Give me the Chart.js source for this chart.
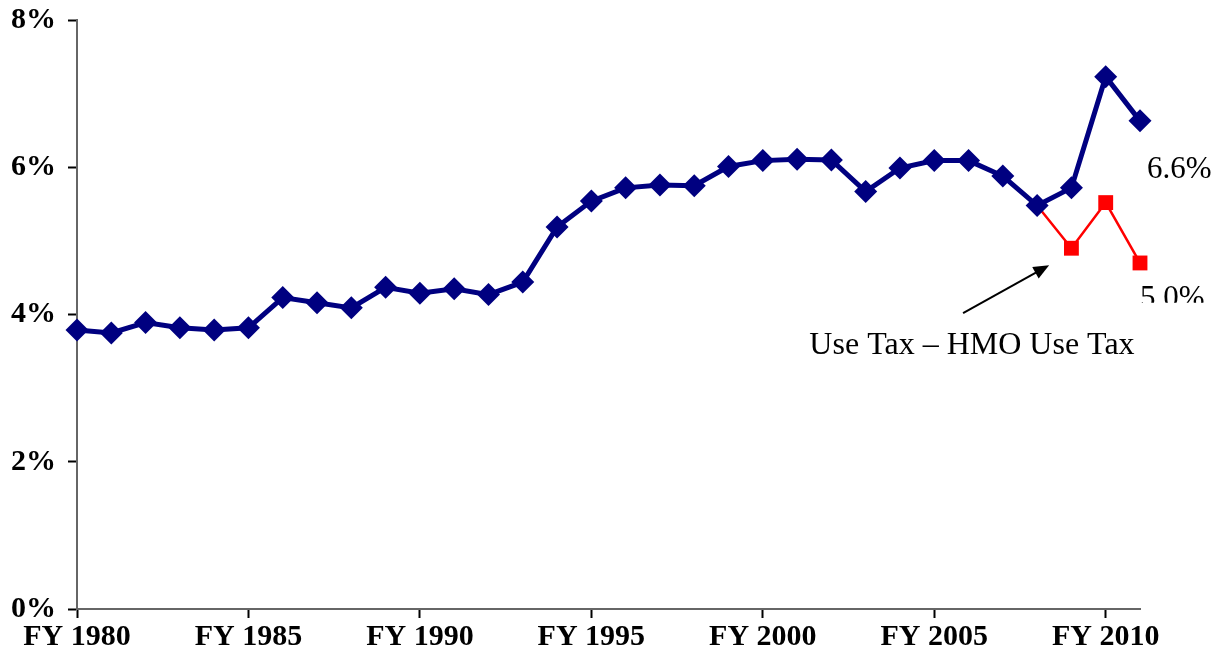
<!DOCTYPE html>
<html>
<head>
<meta charset="utf-8">
<script src="https://cdn.jsdelivr.net/npm/chart.js@4.4.1/dist/chart.umd.min.js"></script>
<style>
  html, body { margin: 0; padding: 0; background: #fff; }
  #wrap { width: 1221px; height: 669px; }
</style>
</head>
<body>
<div id="wrap"><canvas id="lineChart" width="1221" height="669"></canvas></div>
<script>
// Fiscal years on the x-axis
const years = [1980, 1981, 1982, 1983, 1984, 1985, 1986, 1987, 1988, 1989,
               1990, 1991, 1992, 1993, 1994, 1995, 1996, 1997, 1998, 1999,
               2000, 2001, 2002, 2003, 2004, 2005, 2006, 2007, 2008, 2009,
               2010, 2011];
// Use tax share (%) - blue series
const useTax = [3.79, 3.75, 3.89, 3.82, 3.79, 3.82, 4.23, 4.16, 4.09, 4.37,
                4.29, 4.35, 4.27, 4.44, 5.19, 5.54, 5.72, 5.76, 5.75, 6.01,
                6.09, 6.11, 6.10, 5.67, 5.99, 6.09, 6.09, 5.88, 5.48, 5.72,
                7.23, 6.63];
// Use tax minus HMO use tax - red series
const netYears = [2008, 2009, 2010, 2011];
const netUseTax = [5.48, 4.90, 5.52, 4.70];
// axis ticks
const yTicks = [0, 2, 4, 6, 8];
const xTickYears = [1980, 1985, 1990, 1995, 2000, 2005, 2010];

const tickFont = { family: 'Liberation Serif', size: 30, weight: 'bold' };

// draws the value labels, the note and its arrow
const notesPlugin = {
    id: 'notes',
    afterDraw(chart) {
        const c = chart.ctx;
        const x = chart.scales.x, y = chart.scales.y;
        c.save();
        c.fillStyle = '#000';
        c.font = '31px "Liberation Serif"';
        c.textBaseline = 'middle';
        c.textAlign = 'left';
        c.fillText('6.6%', x.getPixelForValue(2011) + 7, y.getPixelForValue(5.97));
        // 5.0% label is cut off at the bottom in the original
        c.save();
        c.beginPath();
        c.rect(0, 0, chart.width, y.getPixelForValue(4.16));
        c.clip();
        c.textBaseline = 'alphabetic';
        c.fillText('5.0%', x.getPixelForValue(2011), y.getPixelForValue(4.1));
        c.restore();
        c.font = '32px "Liberation Serif"';
        c.textAlign = 'center';
        c.fillText('Use Tax \u2013 HMO Use Tax', x.getPixelForValue(2006.1), y.getPixelForValue(3.58));
        // arrow
        const x0 = x.getPixelForValue(2005.84), y0 = y.getPixelForValue(4.02);
        const x1 = x.getPixelForValue(2008.35), y1 = y.getPixelForValue(4.67);
        const ang = Math.atan2(y1 - y0, x1 - x0);
        c.strokeStyle = '#000';
        c.lineWidth = 2;
        c.beginPath();
        c.moveTo(x0, y0);
        c.lineTo(x1 - 8 * Math.cos(ang), y1 - 8 * Math.sin(ang));
        c.stroke();
        c.beginPath();
        c.moveTo(x1, y1);
        c.lineTo(x1 - 17 * Math.cos(ang - 0.4), y1 - 17 * Math.sin(ang - 0.4));
        c.lineTo(x1 - 17 * Math.cos(ang + 0.4), y1 - 17 * Math.sin(ang + 0.4));
        c.closePath();
        c.fill();
        c.restore();
    }
};

const ctx = document.getElementById('lineChart').getContext('2d');
const lineChart = new Chart(ctx, {
    type: 'line',
    data: {
        datasets: [{
            label: 'Use Tax',
            data: years.map((yr, i) => ({ x: yr, y: useTax[i] })),
            borderColor: '#000080',
            backgroundColor: '#000080',
            borderWidth: 5,
            pointStyle: 'rectRot',
            pointRadius: 11.5,
            pointBorderWidth: 0,
            tension: 0,
            clip: false,
            order: 1
        }, {
            label: 'Use Tax - HMO Use Tax',
            data: netYears.map((yr, i) => ({ x: yr, y: netUseTax[i] })),
            borderColor: '#ff0000',
            backgroundColor: '#ff0000',
            borderWidth: 2.5,
            pointStyle: 'rect',
            pointRadius: [0, 10.5, 10.5, 10.5],
            pointBorderWidth: 0,
            tension: 0,
            clip: false,
            order: 2
        }]
    },
    options: {
        responsive: false,
        animation: false,
        layout: { padding: { top: 20, right: 81, left: 0, bottom: 0 } },
        plugins: {
            legend: { display: false },
            tooltip: { enabled: false }
        },
        scales: {
            x: {
                type: 'linear',
                min: 1980,
                max: 2011,
                afterBuildTicks: (axis) => { axis.ticks = xTickYears.map(v => ({ value: v })); },
                afterFit: (axis) => { axis.height = 60; axis.paddingLeft = 0; axis.paddingRight = 0; },
                ticks: {
                    callback: (v) => 'FY ' + v,
                    font: tickFont,
                    color: '#000',
                    padding: 1,
                    maxRotation: 0,
                    autoSkip: false
                },
                grid: { drawOnChartArea: false, tickLength: 9, tickWidth: 2, tickColor: '#000' },
                border: { color: '#666', width: 2 }
            },
            y: {
                min: 0,
                max: 8,
                afterBuildTicks: (axis) => { axis.ticks = yTicks.map(v => ({ value: v })); },
                afterFit: (axis) => { axis.width = 77; axis.paddingTop = 0; axis.paddingBottom = 0; },
                ticks: {
                    callback: (v) => v + '%',
                    font: tickFont,
                    color: '#000',
                    padding: 12
                },
                grid: { drawOnChartArea: false, tickLength: 9, tickWidth: 2, tickColor: '#000' },
                border: { color: '#666', width: 2 }
            }
        }
    },
    plugins: [notesPlugin]
});
</script>
</body>
</html>
